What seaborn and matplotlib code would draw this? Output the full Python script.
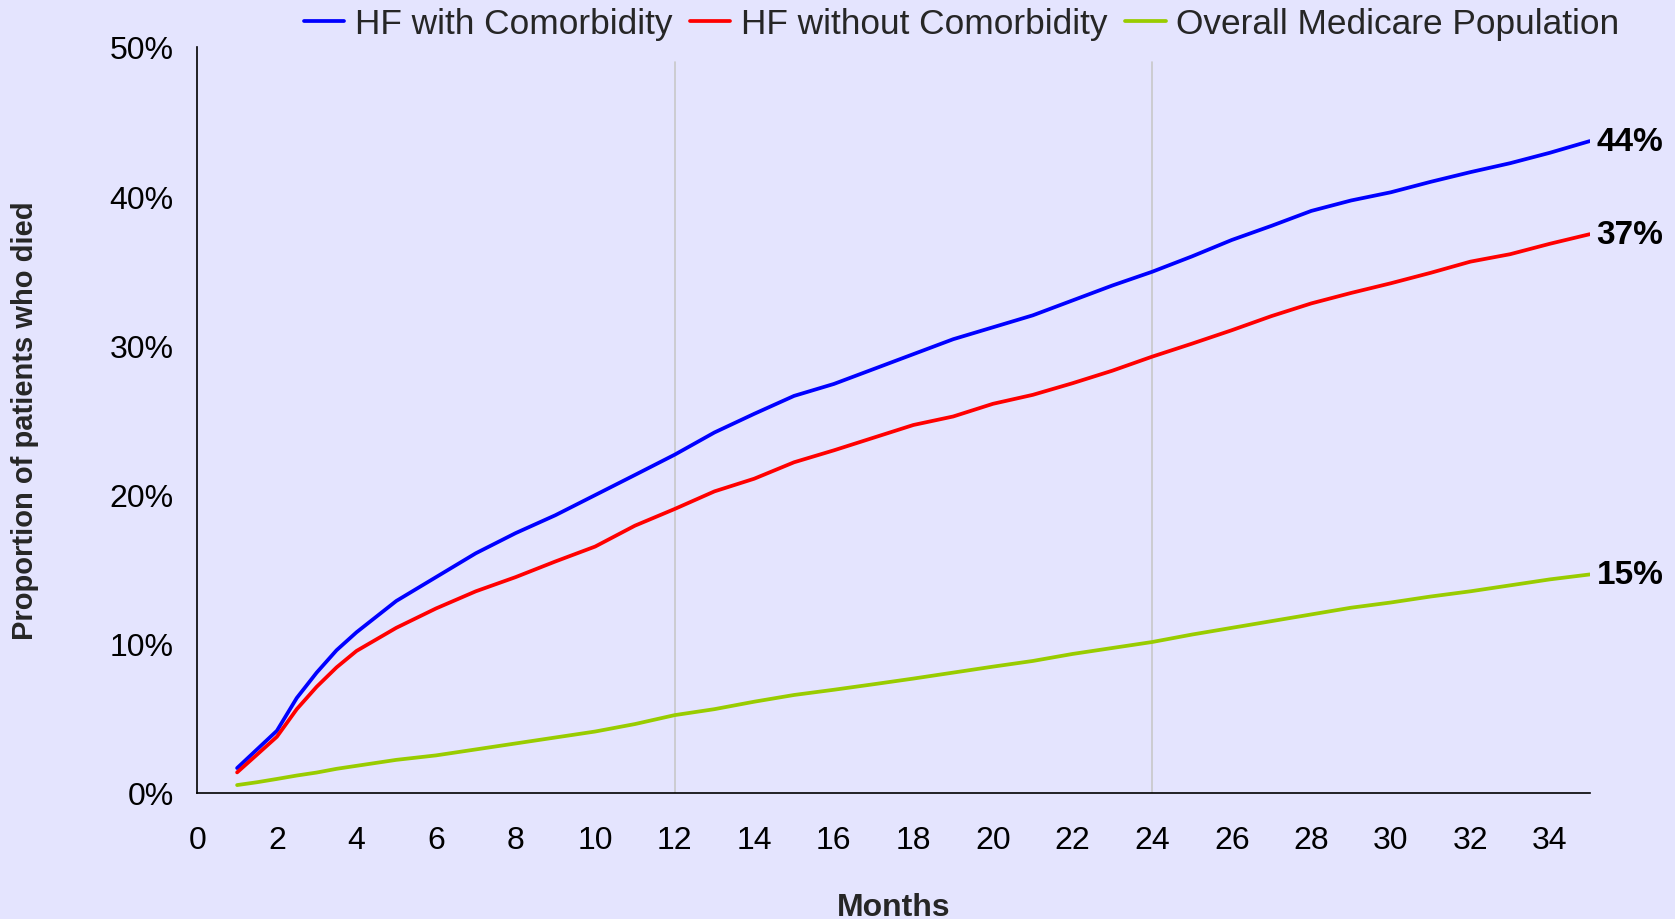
import matplotlib

matplotlib.use("Agg")

import matplotlib.pyplot as plt
import pandas as pd
import seaborn as sns
from matplotlib.ticker import FuncFormatter

MONTHS = [1, 1.5, 2, 2.5, 3, 3.5] + list(range(4, 36))

HF_WITH = [
    1.65, 2.9, 4.15, 6.35, 8.05, 9.55, 10.75, 12.85, 14.45, 16.05, 17.4, 18.6, 19.95,
    21.3, 22.66, 24.15, 25.4, 26.6, 27.4, 28.4, 29.4, 30.4, 31.2,
    32.0, 33.0, 34.0, 34.92, 35.95, 37.05, 38.0, 39.0, 39.7, 40.25,
    40.95, 41.6, 42.2, 42.9, 43.68,
]
HF_WITHOUT = [
    1.36, 2.55, 3.75, 5.6, 7.1, 8.4, 9.5, 11.05, 12.35, 13.5, 14.45, 15.5, 16.5,
    17.9, 19.02, 20.2, 21.05, 22.15, 22.95, 23.8, 24.65, 25.22, 26.07,
    26.67, 27.45, 28.29, 29.23, 30.1, 31.0, 31.95, 32.8, 33.5, 34.15,
    34.85, 35.6, 36.1, 36.8, 37.44,
]
MEDICARE = [
    0.51, 0.7, 0.92, 1.15, 1.35, 1.6, 1.8, 2.2, 2.5, 2.9, 3.3, 3.7, 4.1,
    4.6, 5.2, 5.6, 6.1, 6.55, 6.9, 7.27, 7.65, 8.05, 8.45,
    8.83, 9.3, 9.7, 10.1, 10.6, 11.05, 11.5, 11.95, 12.4, 12.75,
    13.15, 13.5, 13.9, 14.3, 14.63,
]

SERIES = ["HF with Comorbidity", "HF without Comorbidity", "Overall Medicare Population"]
END_LABELS = ["44%", "37%", "15%"]
COLORS = ["#0000FF", "#FF0000", "#99CC00"]
BG = "#E4E4FE"


def main() -> None:
    frames = []
    for name, values in zip(SERIES, [HF_WITH, HF_WITHOUT, MEDICARE]):
        frames.append(pd.DataFrame({"month": MONTHS, "pct": values, "series": name}))
    data = pd.concat(frames, ignore_index=True)

    sns.set_style("white", {"axes.facecolor": BG, "figure.facecolor": BG})
    plt.rcParams["font.family"] = ["Liberation Sans", "DejaVu Sans"]

    fig = plt.figure(figsize=(16.75, 9.2), dpi=100)
    ax = fig.add_axes([0.1178, 0.1373, 0.8313, 0.8107])

    # light vertical markers at 1 and 2 years
    for xv in (12, 24):
        ax.axvline(xv, ymin=0, ymax=0.98, color="#C8C8C8", linewidth=1.2, zorder=0)

    sns.lineplot(
        data=data,
        x="month",
        y="pct",
        hue="series",
        hue_order=SERIES,
        palette=COLORS,
        linewidth=2.7,
        ax=ax,
    )

    for name, label in zip(SERIES, END_LABELS):
        last = data[data["series"] == name].iloc[-1]
        ax.annotate(
            label,
            xy=(last["month"], last["pct"]),
            xytext=(5, 0),
            textcoords="offset points",
            va="center",
            ha="left",
            fontsize=24,
            fontweight="bold",
            color="black",
            annotation_clip=False,
        )

    ax.set_xlim(0, 35)
    ax.set_ylim(0, 50)
    ax.set_xticks(range(0, 35, 2))
    ax.set_yticks(range(0, 51, 10))
    ax.yaxis.set_major_formatter(FuncFormatter(lambda v, _: f"{v:.0f}%"))
    ax.tick_params(axis="both", length=0, labelsize=23, colors="black")
    ax.tick_params(axis="x", pad=23)
    ax.tick_params(axis="y", pad=17)

    for side in ("top", "right"):
        ax.spines[side].set_visible(False)
    for side in ("left", "bottom"):
        ax.spines[side].set_color("black")
        ax.spines[side].set_linewidth(1.2)

    ax.set_xlabel("Months", fontsize=23, fontweight="bold")
    ax.set_ylabel("Proportion of patients who died", fontsize=21, fontweight="bold")
    ax.xaxis.set_label_coords(0.5, -0.133)
    ax.yaxis.set_label_coords(-0.114, 0.5)

    handles, labels = ax.get_legend_handles_labels()
    ax.legend_.remove()
    fig.legend(
        handles,
        labels,
        loc="center",
        bbox_to_anchor=(0.574, 0.973),
        ncol=3,
        frameon=False,
        fontsize=25.4,
        handlelength=1.15,
        handletextpad=0.3,
        columnspacing=0.5,
        borderaxespad=0,
    )

    fig.savefig("out.png", dpi=100, facecolor=BG)
    plt.close(fig)


if __name__ == "__main__":
    main()
